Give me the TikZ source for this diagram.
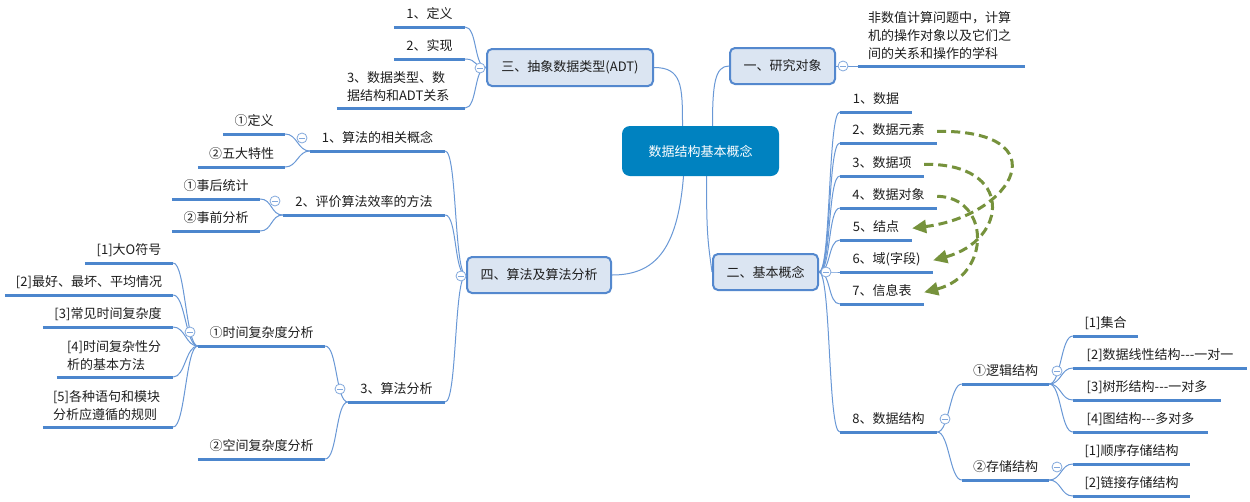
\documentclass[tikz,border=0pt]{standalone}
\usepackage{fontspec}
\setmainfont{Noto Sans CJK SC}
\usetikzlibrary{arrows.meta,backgrounds}
\definecolor{ulc}{RGB}{76,134,205}
\definecolor{cnc}{RGB}{105,152,214}
\definecolor{bxd}{RGB}{84,136,206}
\definecolor{bxf}{RGB}{219,229,242}
\definecolor{ctf}{RGB}{0,130,192}
\definecolor{tgc}{RGB}{130,168,220}
\definecolor{txt}{RGB}{30,30,30}
\definecolor{grn}{RGB}{118,146,60}
\tikzset{
  x=1pt, y=-1pt,
  fnt/.style={font=\fontsize{13}{18}\selectfont},
  leaf/.style={fnt, inner xsep=0pt, inner ysep=5pt, text height=10pt, text depth=3pt, anchor=south, text=txt},
  mleaf/.style={fnt, inner xsep=10pt, inner ysep=6pt, anchor=south, align=left, text=txt},
  uline/.style={draw=ulc, line width=3pt},
  conn/.style={draw=cnc, line width=1pt},
  topic/.style={fnt, draw=bxd, fill=bxf, line width=2pt, rounded corners=5pt, text=txt, inner sep=0pt},
  maintopic/.style={fnt, fill=ctf, rounded corners=8pt, text=white, inner sep=0pt, minimum width=157pt, minimum height=50pt},
  tog/.style={circle, draw=tgc, fill=white, line width=0.8pt, minimum size=10pt, inner sep=0pt,
    path picture={\draw[tgc, line width=0.8pt] ([xshift=-2.8pt]path picture bounding box.center) -- ([xshift=2.8pt]path picture bounding box.center);}},
  garrow/.style={draw=grn, line width=3pt, dash pattern=on 9pt off 5pt, -{Triangle[length=14pt,width=13pt]}}
}
% name, cx, width, y, text
\newcommand\leafnode[5]{\node[leaf, minimum width=#3pt] (#1) at (#2,#4) {#5};
  \draw[uline] (#1.south west) -- (#1.south east);}
% name, cx, width, y, textwidth, text
\newcommand\mleafnode[6]{\node[mleaf, minimum width=#3pt, text width=#5pt] (#1) at (#2,#4) {#6};
  \draw[uline] (#1.south west) -- (#1.south east);}
\newcommand\rbr[2]{\draw[conn] (#1) .. controls +(12,0) and +(-12,0) .. (#2.south west);}
\newcommand\lbr[2]{\draw[conn] (#1) .. controls +(-12,0) and +(12,0) .. (#2.south east);}
\newcommand\hy{-{}-{}-}
\begin{document}
\begin{tikzpicture}
\useasboundingbox (0,0) rectangle (1250,501);
% central and main topics
\node[maintopic] (c) at (700.5,151) {数据结构基本概念};
\node[topic, minimum width=105pt, minimum height=36pt] (n1) at (782.5,66) {一、研究对象};
\node[topic, minimum width=166pt, minimum height=37pt] (n3) at (570,67.5) {三、抽象数据类型(ADT)};
\node[topic, minimum width=105pt, minimum height=36pt] (n2) at (765.5,272) {二、基本概念};
\node[topic, minimum width=144pt, minimum height=36pt] (n4) at (539,275) {四、算法及算法分析};
% 一
\mleafnode{r1}{941.5}{167}{66}{147}{非数值计算问题中，计算\\机的操作对象以及它们之\\间的关系和操作的学科}
% 二
\leafnode{e1}{876}{72}{112}{1、数据}
\leafnode{e2}{888.5}{97}{143}{2、数据元素}
\leafnode{e3}{882}{84}{176}{3、数据项}
\leafnode{e4}{888.5}{97}{208}{4、数据对象}
\leafnode{e5}{876}{72}{240}{5、结点}
\leafnode{e6}{886.5}{93}{272}{6、域(字段)}
\leafnode{e7}{882}{84}{304}{7、信息表}
\leafnode{e8}{888.5}{97}{432}{8、数据结构}
\leafnode{l1}{1005.5}{87}{384}{①逻辑结构}
\leafnode{l2}{1005.5}{87}{480}{②存储结构}
\leafnode{la}{1105.5}{65}{336}{[1]集合}
\leafnode{lb}{1160}{174}{368}{[2]数据线性结构\hy 一对一}
\leafnode{lc}{1147}{148}{400}{[3]树形结构\hy 一对多}
\leafnode{ld}{1140.5}{135}{432}{[4]图结构\hy 多对多}
\leafnode{sa}{1131.5}{117}{464}{[1]顺序存储结构}
\leafnode{sb}{1131.5}{117}{496}{[2]链接存储结构}
% 三
\leafnode{a1}{429.5}{71}{27}{1、定义}
\leafnode{a2}{429.5}{71}{59}{2、实现}
\mleafnode{a3}{401}{128}{108}{108}{3、数据类型、数\\据结构和ADT关系}
% 四
\leafnode{b1}{377.5}{135}{151}{1、算法的相关概念}
\leafnode{b2}{364}{162}{215}{2、评价算法效率的方法}
\leafnode{b3}{396.5}{97}{402}{3、算法分析}
\leafnode{c1}{254}{62}{134}{①定义}
\leafnode{c2}{241.5}{87}{167}{②五大特性}
\leafnode{d1}{216}{88}{199}{①事后统计}
\leafnode{d2}{216}{88}{231}{②事前分析}
\leafnode{t1}{261.5}{127}{346}{①时间复杂度分析}
\leafnode{t2}{261.5}{127}{459}{②空间复杂度分析}
\leafnode{u1}{129}{88}{263}{[1]大O符号}
\leafnode{u2}{89}{168}{295}{[2]最好、最坏、平均情况}
\leafnode{u3}{108}{130}{327}{[3]常见时间复杂度}
\mleafnode{u4}{115}{116}{377}{96}{[4]时间复杂性分\\析的基本方法}
\mleafnode{u5}{108}{130}{427}{110}{[5]各种语句和模块\\分析应遵循的规则}
% connectors
\begin{scope}[on background layer]
\fill[white] (0,0) rectangle (1250,501);
\draw[conn] ([xshift=-18pt]c.north) .. controls +(0,-40) and +(28,0) .. (n3.east);
\draw[conn] ([xshift=12pt]c.north) .. controls +(0,-42) and +(-14,0) .. (n1.west);
\draw[conn] ([xshift=-17pt]c.south) .. controls +(-6,75) and +(42,0) .. (n4.east);
\draw[conn] ([xshift=6pt]c.south) .. controls +(0,60) and +(-4,-30) .. (n2.west);
\draw[conn] (n1.east) -- (r1.south west);
\foreach \k in {e1,e2,e3,e4,e5,e6,e7,e8} {\rbr{n2.east}{\k}}
\rbr{e8.south east}{l1}
\rbr{e8.south east}{l2}
\foreach \k in {la,lb,lc,ld} {\rbr{l1.south east}{\k}}
\foreach \k in {sa,sb} {\rbr{l2.south east}{\k}}
\foreach \k in {a1,a2,a3} {\lbr{n3.west}{\k}}
\foreach \k in {b1,b2,b3} {\lbr{n4.west}{\k}}
\lbr{b1.south west}{c1}
\lbr{b1.south west}{c2}
\lbr{b2.south west}{d1}
\lbr{b2.south west}{d2}
\lbr{b3.south west}{t1}
\lbr{b3.south west}{t2}
\foreach \k in {u1,u2,u3,u4,u5} {\lbr{t1.south west}{\k}}
\end{scope}
% toggles
\node[tog] (k1) at (843,66) {};
\node[tog] (k3) at (480,68) {};
\node[tog] (k2) at (826,272) {};
\node[tog] (k4) at (461,276) {};
\node[tog] (k8) at (945,419) {};
\node[tog] (kl) at (1057,371) {};
\node[tog] (ks) at (1057,467) {};
\node[tog] (kb1) at (302,138) {};
\node[tog] (kb2) at (275,201) {};
\node[tog] (kb3) at (340,389) {};
\node[tog] (kt1) at (190,332) {};
% relation arrows
\draw[garrow] (e2.east) .. controls (1060,130) and (1015,215) .. (e5.east);
\draw[garrow] (e3.east) .. controls (1015,163) and (1008,240) .. (e6.east);
\draw[garrow] (e4.east) .. controls (990,197) and (992,275) .. (e7.east);
\end{tikzpicture}
\end{document}
